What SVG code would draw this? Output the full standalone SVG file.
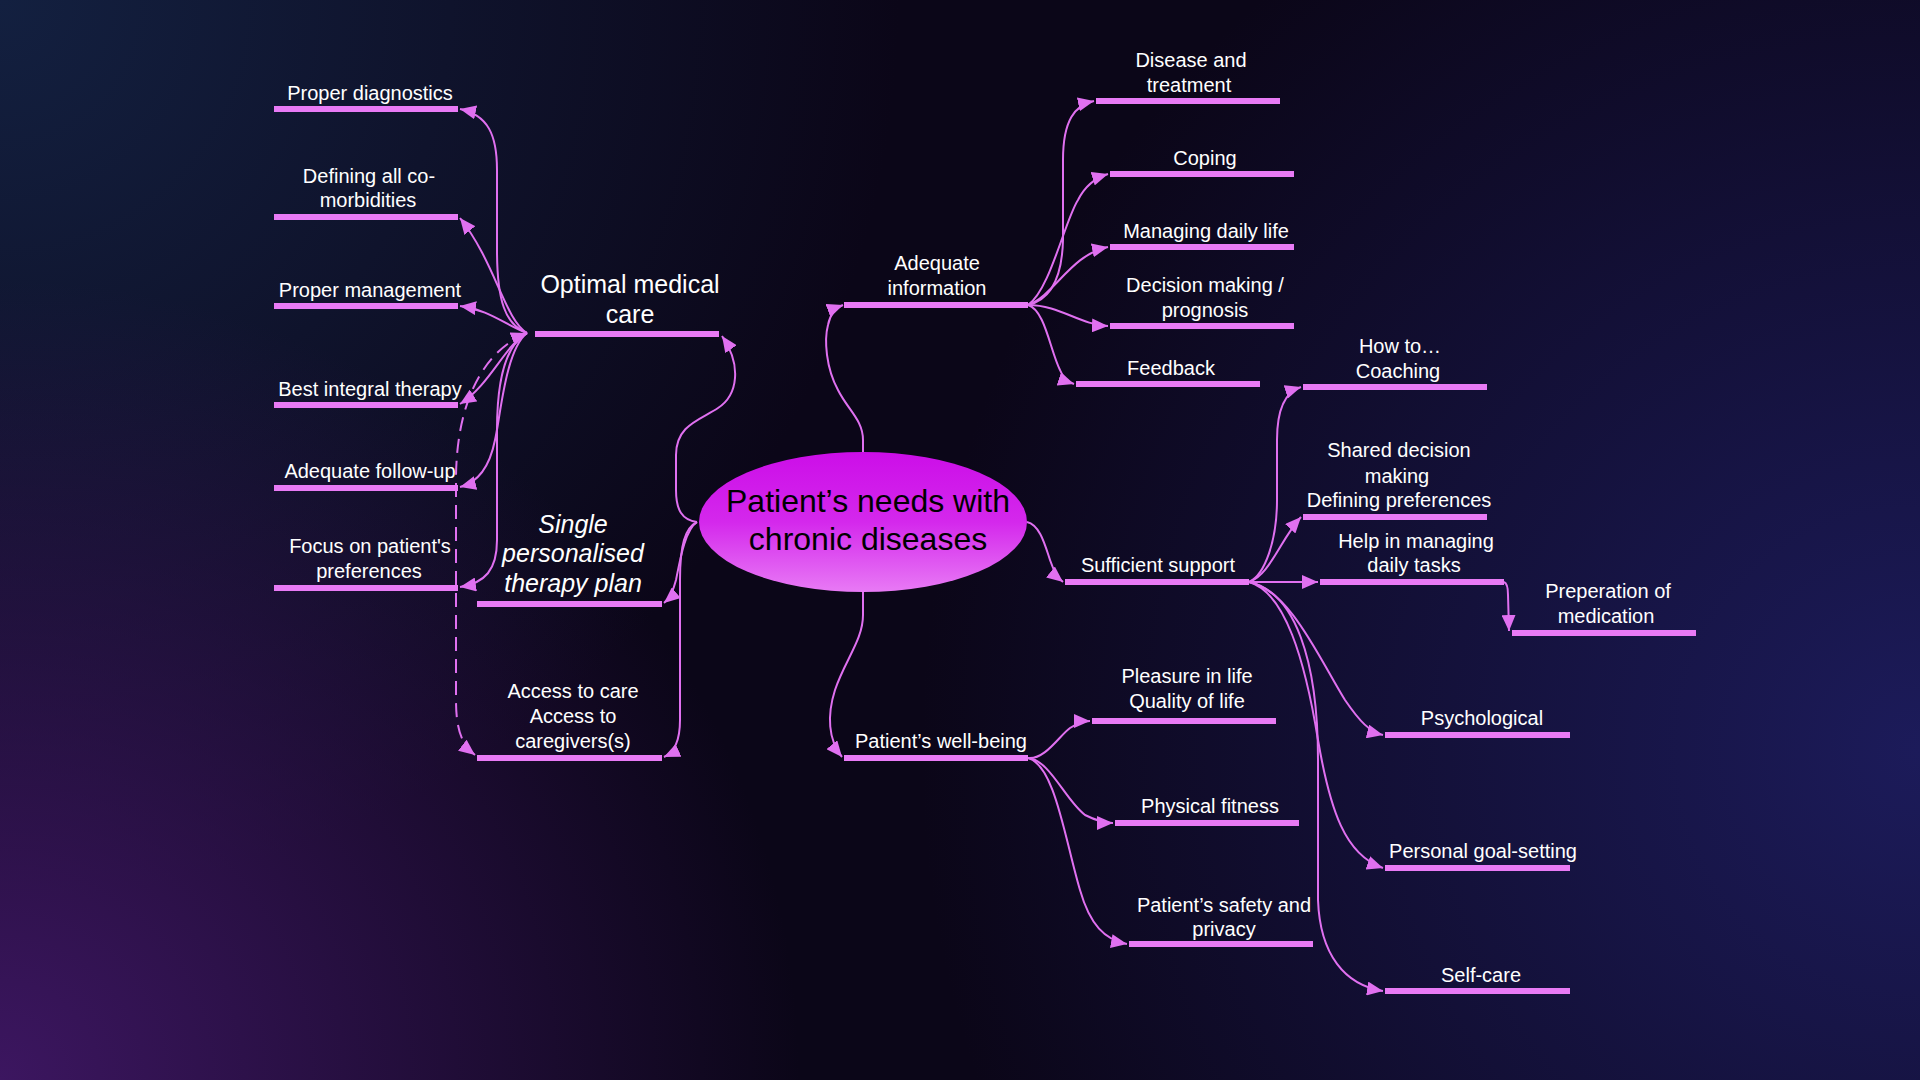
<svg xmlns="http://www.w3.org/2000/svg" width="1920" height="1080" viewBox="0 0 1920 1080">
<style>
.lbl{font-family:"Liberation Sans",Arial,Helvetica,sans-serif;font-size:20px;fill:#ffffff;text-anchor:middle}
.big{font-size:25px}
.ital{font-style:italic;font-size:25px}
.core{font-family:"Liberation Sans",Arial,Helvetica,sans-serif;font-size:32px;fill:#000000;text-anchor:middle}
.bar{fill:#e87af5}
.con{fill:none;stroke:#e070f0;stroke-width:2;marker-end:url(#ah)}
.dash{stroke-dasharray:14 8;marker-start:url(#ahs)}
</style>
<defs>
<marker id="ah" markerUnits="userSpaceOnUse" markerWidth="18" markerHeight="14" refX="16" refY="7" orient="auto"><path d="M0,0 L16,7 L0,14 z" fill="#e070f0"/></marker>
<marker id="ahs" markerUnits="userSpaceOnUse" markerWidth="18" markerHeight="14" refX="16" refY="7" orient="auto-start-reverse"><path d="M0,0 L16,7 L0,14 z" fill="#e070f0"/></marker>
<radialGradient id="gTL" gradientUnits="userSpaceOnUse" cx="0" cy="0" r="900"><stop offset="0" stop-color="#132040" stop-opacity="1"/><stop offset="1" stop-color="#132040" stop-opacity="0"/></radialGradient>
<radialGradient id="gBL" gradientUnits="userSpaceOnUse" cx="0" cy="1080" r="800"><stop offset="0" stop-color="#3c1660" stop-opacity="1"/><stop offset="1" stop-color="#3c1660" stop-opacity="0"/></radialGradient>
<radialGradient id="gR" gradientUnits="userSpaceOnUse" cx="1920" cy="750" r="1000"><stop offset="0" stop-color="#1c1b5a" stop-opacity="1"/><stop offset="1" stop-color="#1c1b5a" stop-opacity="0"/></radialGradient>
<linearGradient id="gEl" x1="0" y1="0" x2="0" y2="1"><stop offset="0" stop-color="#cc0ee8"/><stop offset="0.5" stop-color="#d428ec"/><stop offset="1" stop-color="#e87af5"/></linearGradient>
</defs>
<rect width="1920" height="1080" fill="#0b0618"/>
<rect width="1920" height="1080" fill="url(#gTL)"/>
<rect width="1920" height="1080" fill="url(#gBL)"/>
<rect width="1920" height="1080" fill="url(#gR)"/>

<g id="connectors">
<path class="con" d="M527,333 C505,325 497,300 497,250 L497,170 C497,135 488,115 460,109"/>
<path class="con" d="M527,333 C505,320 495,262 460,218"/>
<path class="con" d="M527,333 C505,325 490,310 460,306"/>
<path class="con" d="M527,333 C505,345 490,385 460,404"/>
<path class="con" d="M527,333 C505,350 500,420 495,440 C490,465 480,482 460,487"/>
<path class="con" d="M527,333 C505,345 497,380 497,430 L497,540 C497,570 485,583 460,587"/>
<path class="con dash" d="M527,333 C485,350 456,400 456,480 L456,700 C456,730 462,745 475,755"/>
<path class="con" d="M697,522 C682,520 676,510 676,490 L676,455 C676,425 700,420 718,408 C738,395 742,365 722,336"/>
<path class="con" d="M697,522 C685,530 680,560 676,580 C673,592 670,598 664,603"/>
<path class="con" d="M697,522 C685,528 680,545 680,580 L680,720 C680,740 675,752 664,757"/>
<path class="con" d="M863,452 L863,440 C863,420 848,410 838,390 C826,368 824,340 828,325 C830,315 835,308 843,305"/>
<path class="con" d="M1028,305 C1050,300 1062,280 1063,240 L1063,160 C1063,120 1075,105 1094,101"/>
<path class="con" d="M1028,305 C1050,290 1065,220 1078,200 C1085,186 1095,178 1108,174"/>
<path class="con" d="M1028,305 C1055,295 1070,255 1108,247"/>
<path class="con" d="M1028,305 C1060,305 1080,325 1108,326"/>
<path class="con" d="M1028,305 C1045,310 1050,350 1060,370 C1063,378 1068,382 1074,384"/>
<path class="con" d="M1027,522 C1040,525 1045,545 1050,560 C1054,572 1058,578 1063,582"/>
<path class="con" d="M1249,582 C1265,575 1277,540 1277,500 L1277,440 C1277,410 1285,392 1301,387"/>
<path class="con" d="M1249,582 C1270,575 1280,540 1301,517"/>
<path class="con" d="M1249,582 L1318,582"/>
<path class="con" d="M1249,582 C1290,590 1320,660 1345,700 C1360,722 1370,732 1383,735"/>
<path class="con" d="M1249,582 C1285,592 1305,660 1318,740 C1330,810 1345,855 1383,868"/>
<path class="con" d="M1249,582 C1295,592 1318,660 1318,760 L1318,900 C1320,955 1345,985 1383,991"/>
<path class="con" d="M1504,582 C1507,583 1508,588 1508,595 L1509,631"/>
<path class="con" d="M863,592 L863,615 C863,640 845,660 835,690 C827,715 828,740 842,757"/>
<path class="con" d="M1028,758 C1045,760 1060,735 1070,728 C1078,723 1085,721 1090,721"/>
<path class="con" d="M1028,758 C1050,760 1065,800 1085,815 C1095,820 1105,823 1113,823"/>
<path class="con" d="M1028,758 C1055,765 1065,840 1080,890 C1090,925 1105,940 1127,944"/>
</g>

<g id="center">
<ellipse cx="863" cy="522" rx="164" ry="70" fill="url(#gEl)"/>
<text class="core" x="868" y="512">Patient’s needs with</text>
<text class="core" x="868" y="550">chronic diseases</text>
</g>

<g id="optimal-medical-care"><rect class="bar" x="535" y="331" width="184" height="6"/><text class="lbl big" x="630" y="293">Optimal medical</text><text class="lbl big" x="630" y="323">care</text></g>
<g id="proper-diagnostics"><rect class="bar" x="274" y="106" width="184" height="6"/><text class="lbl" x="370" y="100">Proper diagnostics</text></g>
<g id="defining-comorbidities"><rect class="bar" x="274" y="214" width="184" height="6"/><text class="lbl" x="369" y="183">Defining all co-</text><text class="lbl" x="368" y="207">morbidities</text></g>
<g id="proper-management"><rect class="bar" x="274" y="303" width="184" height="6"/><text class="lbl" x="370" y="297">Proper management</text></g>
<g id="best-integral-therapy"><rect class="bar" x="274" y="402" width="184" height="6"/><text class="lbl" x="370" y="396">Best integral therapy</text></g>
<g id="adequate-follow-up"><rect class="bar" x="274" y="485" width="184" height="6"/><text class="lbl" x="370" y="478">Adequate follow-up</text></g>
<g id="focus-preferences"><rect class="bar" x="274" y="585" width="184" height="6"/><text class="lbl" x="370" y="553">Focus on patient's</text><text class="lbl" x="369" y="578">preferences</text></g>
<g id="single-plan"><rect class="bar" x="477" y="601" width="185" height="6"/><text class="lbl ital" x="573" y="533">Single</text><text class="lbl ital" x="573" y="562">personalised</text><text class="lbl ital" x="573" y="592">therapy plan</text></g>
<g id="access-to-care"><rect class="bar" x="477" y="755" width="185" height="6"/><text class="lbl" x="573" y="698">Access to care</text><text class="lbl" x="573" y="723">Access to</text><text class="lbl" x="573" y="748">caregivers(s)</text></g>

<g id="adequate-information"><rect class="bar" x="844" y="302" width="184" height="6"/><text class="lbl" x="937" y="270">Adequate</text><text class="lbl" x="937" y="295">information</text></g>
<g id="disease-treatment"><rect class="bar" x="1096" y="98" width="184" height="6"/><text class="lbl" x="1191" y="67">Disease and</text><text class="lbl" x="1189" y="92">treatment</text></g>
<g id="coping"><rect class="bar" x="1110" y="171" width="184" height="6"/><text class="lbl" x="1205" y="165">Coping</text></g>
<g id="managing-daily-life"><rect class="bar" x="1110" y="244" width="184" height="6"/><text class="lbl" x="1206" y="238">Managing daily life</text></g>
<g id="decision-making"><rect class="bar" x="1110" y="323" width="184" height="6"/><text class="lbl" x="1205" y="292">Decision making /</text><text class="lbl" x="1205" y="317">prognosis</text></g>
<g id="feedback"><rect class="bar" x="1076" y="381" width="184" height="6"/><text class="lbl" x="1171" y="375">Feedback</text></g>

<g id="sufficient-support"><rect class="bar" x="1065" y="579" width="184" height="6"/><text class="lbl" x="1158" y="572">Sufficient support</text></g>
<g id="coaching"><rect class="bar" x="1303" y="384" width="184" height="6"/><text class="lbl" x="1400" y="353">How to…</text><text class="lbl" x="1398" y="378">Coaching</text></g>
<g id="shared-decision"><rect class="bar" x="1303" y="514" width="184" height="6"/><text class="lbl" x="1399" y="457">Shared decision</text><text class="lbl" x="1397" y="483">making</text><text class="lbl" x="1399" y="507">Defining preferences</text></g>
<g id="help-daily-tasks"><rect class="bar" x="1320" y="579" width="184" height="6"/><text class="lbl" x="1416" y="548">Help in managing</text><text class="lbl" x="1414" y="572">daily tasks</text></g>
<g id="medication"><rect class="bar" x="1512" y="630" width="184" height="6"/><text class="lbl" x="1608" y="598">Preperation of</text><text class="lbl" x="1606" y="623">medication</text></g>
<g id="psychological"><rect class="bar" x="1385" y="732" width="185" height="6"/><text class="lbl" x="1482" y="725">Psychological</text></g>
<g id="goal-setting"><rect class="bar" x="1385" y="865" width="185" height="6"/><text class="lbl" x="1483" y="858">Personal goal-setting</text></g>
<g id="self-care"><rect class="bar" x="1385" y="988" width="185" height="6"/><text class="lbl" x="1481" y="982">Self-care</text></g>

<g id="well-being"><rect class="bar" x="844" y="755" width="184" height="6"/><text class="lbl" x="941" y="748">Patient’s well-being</text></g>
<g id="pleasure"><rect class="bar" x="1092" y="718" width="184" height="6"/><text class="lbl" x="1187" y="683">Pleasure in life</text><text class="lbl" x="1187" y="708">Quality of life</text></g>
<g id="physical-fitness"><rect class="bar" x="1115" y="820" width="184" height="6"/><text class="lbl" x="1210" y="813">Physical fitness</text></g>
<g id="safety-privacy"><rect class="bar" x="1129" y="941" width="184" height="6"/><text class="lbl" x="1224" y="912">Patient’s safety and</text><text class="lbl" x="1224" y="936">privacy</text></g>
</svg>
